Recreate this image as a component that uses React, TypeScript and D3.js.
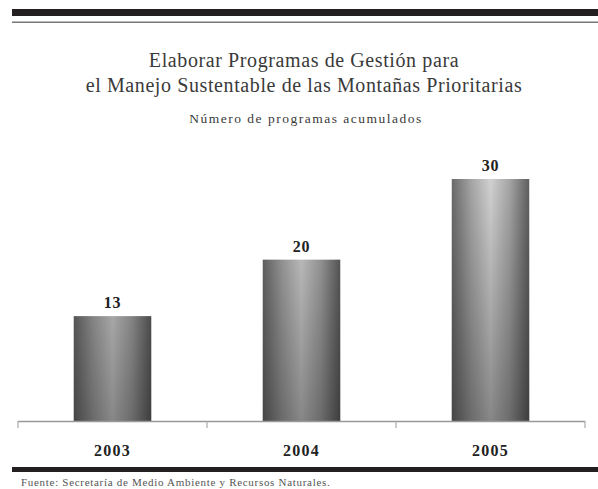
import React from "react";
import * as d3 from "d3";

const years = ["2003", "2004", "2005"];
const values = [13, 20, 30];
const titleLines = [
  "Elaborar Programas de Gestión para",
  "el Manejo Sustentable de las Montañas Prioritarias",
];
const subtitle = "Número de programas acumulados";
const source = "Fuente: Secretaría de Medio Ambiente y Recursos Naturales.";

export default function App() {
  const W = 598;
  const H = 489;
  const x = d3.scaleBand<string>().domain(years).range([18, 585]).paddingInner(0.59).paddingOuter(0.295);
  const y = d3.scaleLinear().domain([0, 30]).range([421, 179]);
  const outer = d3.scaleBand<string>().domain(years).range([18, 585]);
  const tickXs = [...years.map((d) => outer(d)!), 585];
  const serif = "'Liberation Serif', 'DejaVu Serif', serif";
  return (
    <svg width={W} height={H} style={{ position: "absolute", left: 0, top: 0, background: "#fff" }}>
      <defs>
        <linearGradient id="cyl" x1="0" x2="1" y1="0" y2="0">
          <stop offset="0" stopColor="#6a6a6a" />
          <stop offset="0.25" stopColor="#a4a4a4" />
          <stop offset="0.5" stopColor="#d0d0d0" />
          <stop offset="0.75" stopColor="#a4a4a4" />
          <stop offset="1" stopColor="#5e5e5e" />
        </linearGradient>
        <linearGradient id="shade" gradientUnits="userSpaceOnUse" x1="0" x2="0" y1={y(30)} y2={y(0)}>
          <stop offset="0" stopColor="#000" stopOpacity="0" />
          <stop offset="1" stopColor="#000" stopOpacity="0.35" />
        </linearGradient>
      </defs>
      <rect x={12} y={9} width={586} height={7} fill="#231f20" />
      <rect x={12} y={21.5} width={586} height={1.5} fill="#777" />

      {titleLines.map((t, i) => (
        <text key={i} x={304} y={67 + i * 25} textAnchor="middle" fontFamily={serif} fontSize={20} letterSpacing={0.6} fill="#3a3a3a">
          {t}
        </text>
      ))}
      <text x={306} y={123} textAnchor="middle" fontFamily={serif} fontSize={13.5} letterSpacing={1.5} fill="#3a3a3a">
        {subtitle}
      </text>

      {years.map((d, i) => (
        <g key={d}>
          <rect x={x(d)} y={y(values[i])} width={x.bandwidth()} height={y(0) - y(values[i])} fill="url(#cyl)" />
          <rect x={x(d)} y={y(values[i])} width={x.bandwidth()} height={y(0) - y(values[i])} fill="url(#shade)" />
          <text x={x(d)! + x.bandwidth() / 2} y={y(values[i]) - 8} textAnchor="middle" fontFamily={serif} fontWeight="bold" fontSize={16} letterSpacing={0.8} fill="#222">
            {values[i]}
          </text>
          <text x={outer(d)! + outer.bandwidth() / 2} y={456} textAnchor="middle" fontFamily={serif} fontWeight="bold" fontSize={16} letterSpacing={1.2} fill="#222">
            {d}
          </text>
        </g>
      ))}

      <line x1={18} x2={585} y1={421.5} y2={421.5} stroke="#999" strokeWidth={1.5} />
      {tickXs.map((t, i) => (
        <line key={i} x1={t} x2={t} y1={421} y2={428} stroke="#aaa" strokeWidth={1.2} />
      ))}

      <rect x={12} y={467} width={586} height={5} fill="#231f20" />
      <text x={21} y={486} fontFamily={serif} fontSize={11} letterSpacing={0.7} fill="#555">
        {source}
      </text>
    </svg>
  );
}
